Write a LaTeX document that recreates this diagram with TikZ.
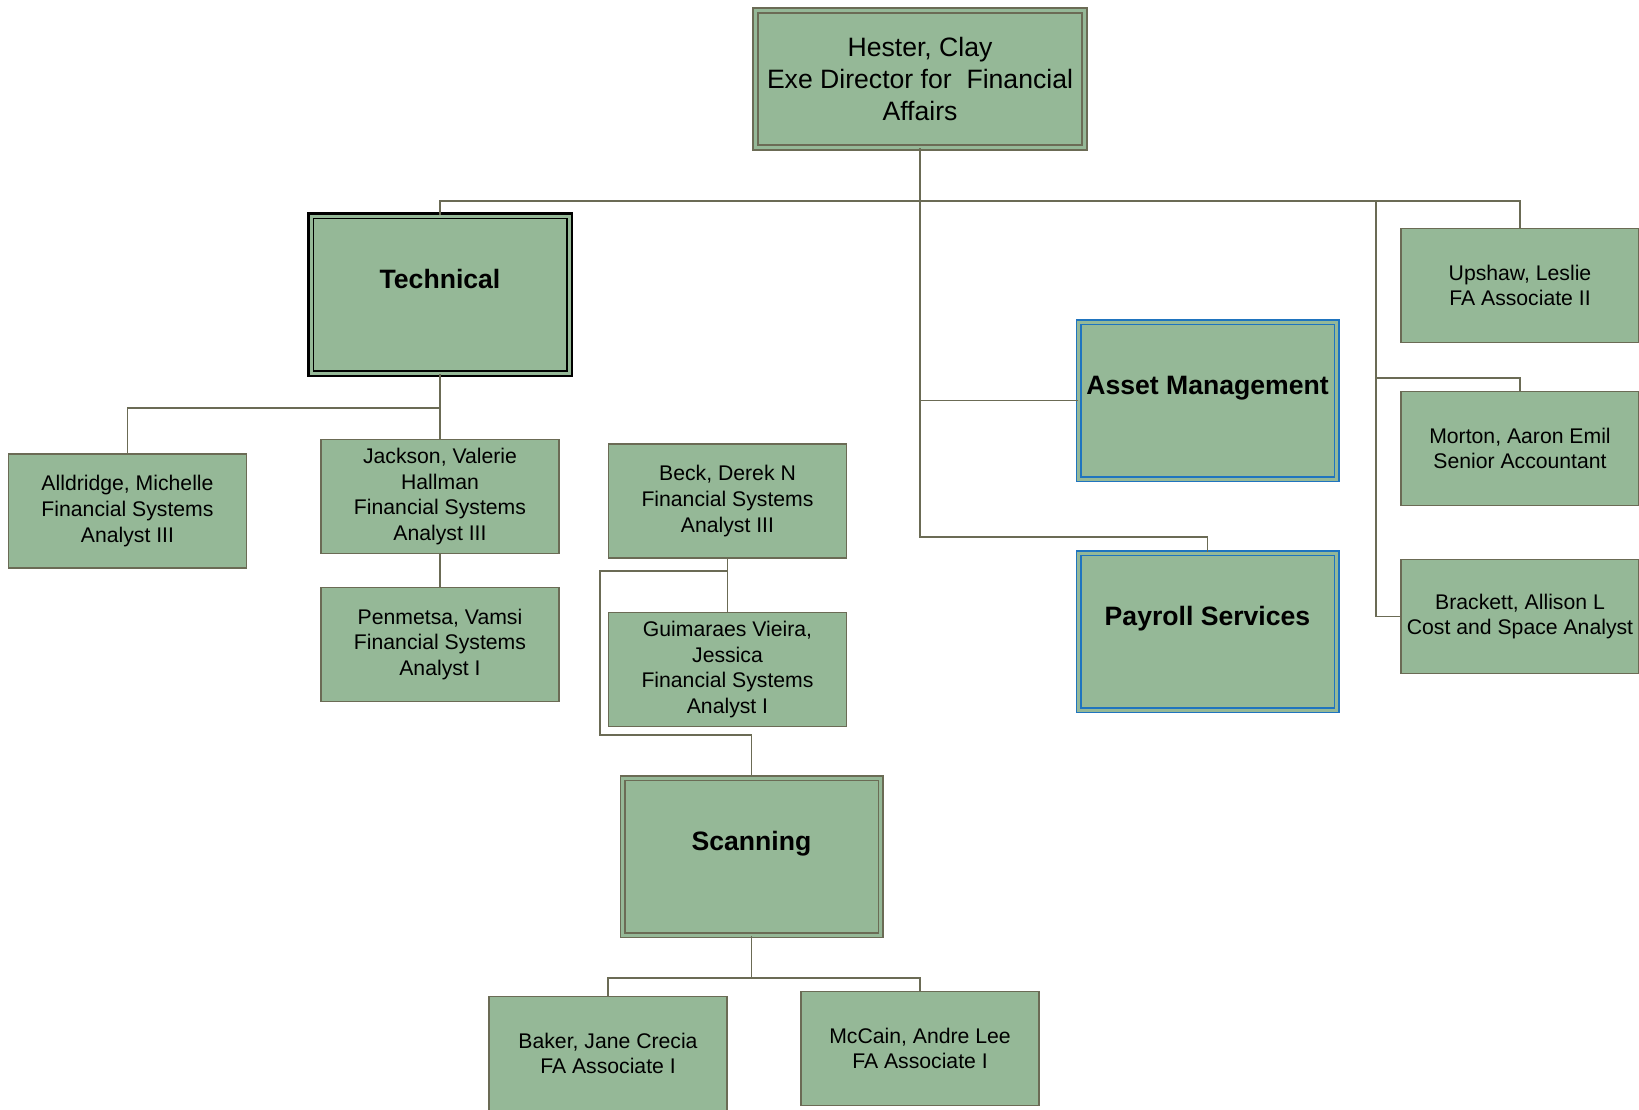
\documentclass[tikz,border=0pt]{standalone}
\usepackage{fontspec}
\setmainfont{Liberation Sans}
\usetikzlibrary{positioning,calc}
\definecolor{orggreen}{HTML}{95B897}
\definecolor{orgedge}{HTML}{6B6B55}
\definecolor{orgblue}{HTML}{1F74BF}
\tikzset{
    staffbox/.style={draw=orgedge, fill=orggreen, line width=0.75pt, align=center,
        font=\fontsize{10.6}{12.8}\selectfont, minimum width=119pt, minimum height=57pt, inner sep=1pt},
    headbox/.style={draw=orgedge, fill=orggreen, double=orggreen, double distance=1.6pt,
        line width=0.9pt, align=center, font=\fontsize{13.3}{16}\selectfont,
        minimum width=164.5pt, minimum height=68.5pt},
    unitbox/.style={fill=orggreen, double=orggreen, double distance=1.5pt, line width=0.75pt,
        font=\bfseries\fontsize{13.3}{16}\selectfont, minimum width=129pt, minimum height=78.5pt,
        text height=9.7pt, text depth=15.6pt},
    orgline/.style={draw=orgedge, line width=0.8pt}
}

\begin{document}
\begin{tikzpicture}[x=0.5pt, y=-0.5pt]
\useasboundingbox (0,0) rectangle (1639,1109);
\node[headbox] (hester) at (920,79) {Hester, Clay\\Exe Director for~ Financial\\Affairs};
\node[unitbox, draw=black, preaction={draw=black, line width=3.9pt}] (tech) at (440,294.5) {Technical};
\node[unitbox, draw=orgblue] (asset) at (1207.5,400.5) {Asset Management};
\node[unitbox, draw=orgblue] (payroll) at (1207.5,631.5) {Payroll Services};
\node[unitbox, draw=orgedge] (scanning) at (751.5,856.5) {Scanning};
\node[staffbox] (upshaw) at (1520,285.5) {Upshaw, Leslie\\FA Associate II};
\node[staffbox] (morton) at (1520,448.5) {Morton, Aaron Emil\\Senior Accountant};
\node[staffbox] (brackett) at (1520,616.5) {Brackett, Allison L\\Cost and Space Analyst};
\node[staffbox] (alldridge) at (127.5,511) {Alldridge, Michelle\\Financial Systems\\Analyst III};
\node[staffbox] (jackson) at (440,496.5) {Jackson, Valerie\\Hallman\\Financial Systems\\Analyst III};
\node[staffbox] (penmetsa) at (440,644.5) {Penmetsa, Vamsi\\Financial Systems\\Analyst I};
\node[staffbox] (beck) at (727.5,501) {Beck, Derek N\\Financial Systems\\Analyst III};
\node[staffbox] (guim) at (727.5,669.5) {Guimaraes Vieira,\\Jessica\\Financial Systems\\Analyst I};
\node[staffbox] (baker) at (608,1053.5) {Baker, Jane Crecia\\FA Associate I};
\node[staffbox] (mccain) at (920,1048.5) {McCain, Andre Lee\\FA Associate I};
\coordinate (topbar) at (920,201);
\coordinate (rightbar) at (1376,201);
\coordinate (mortonbend) at (1376,378);
\coordinate (payrollbend) at (920,537);
\coordinate (techbend) at (440,408);
\coordinate (loopa) at (600,571);
\coordinate (loopb) at (600,735);
\coordinate (scanbar) at (751.5,978);
\draw[orgline] (tech.north) |- (topbar) -| (upshaw.north);
\draw[orgline] (hester.south) -- (payrollbend) -| (payroll.north);
\draw[orgline] (asset.west -| hester.south) -- (asset.west);
\draw[orgline] (rightbar) |- (brackett.west);
\draw[orgline] (mortonbend) -| (morton.north);
\draw[orgline] (tech.south) -- (jackson.north);
\draw[orgline] (techbend) -| (alldridge.north);
\draw[orgline] (jackson) -- (penmetsa);
\draw[orgline] (beck) -- (guim);
\draw[orgline] (beck.south) |- (loopa) -- (loopb) -| (scanning.north);
\draw[orgline] (scanning.south) -- (scanbar);
\draw[orgline] (baker.north) |- (scanbar) -| (mccain.north);
\end{tikzpicture}
\end{document}
